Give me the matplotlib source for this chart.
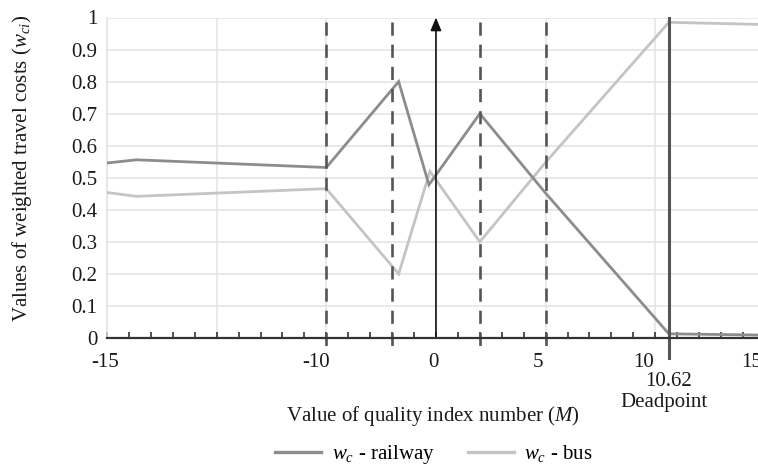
import numpy as np
import matplotlib
matplotlib.use("Agg")
import matplotlib.pyplot as plt
from matplotlib.transforms import ScaledTranslation
from matplotlib.lines import Line2D

# ---- data ----
railway_M = [-15, -14.33, -10, -3.4, -0.64, 2, 5, 10.62, 15]
railway_w = [0.546, 0.556, 0.532, 0.80, 0.478, 0.70, 0.452, 0.013, 0.009]
bus_M = [-15, -14.33, -10, -3.4, -0.55, 2, 5, 10.62, 15]
bus_w = [0.454, 0.442, 0.466, 0.20, 0.52, 0.30, 0.548, 0.985, 0.978]
dashed_M = [-10, -4, 2, 5]
deadpoint_M = 10.62
xtick_vals = [-15, -12.5, -10, 0, 5, 10, 15]
xtick_labels = ["-15", "", "-10", "0", "5", "10", "15"]
ytick_vals = [0, 0.1, 0.2, 0.3, 0.4, 0.5, 0.6, 0.7, 0.8, 0.9, 1.0]
ytick_labels = ["0", "0.1", "0.2", "0.3", "0.4", "0.5", "0.6", "0.7", "0.8", "0.9", "1"]

plt.rcParams['font.family'] = ['Liberation Serif', 'DejaVu Serif']
plt.rcParams['mathtext.fontset'] = 'custom'
plt.rcParams['mathtext.rm'] = 'Liberation Serif'
plt.rcParams['mathtext.it'] = 'Liberation Serif:italic'

# piecewise axis used in the reference
_m_knots = [-15, -10, 0, 15]
_p_knots = [0, 10, 15, 30]
def fwd(m):
    return np.interp(m, _m_knots, _p_knots)
def inv(p):
    return np.interp(p, _p_knots, _m_knots)

W, H = 758, 468
fig = plt.figure(figsize=(W / 100, H / 100), dpi=100)
x0, x1 = 107, 107 + 30 * 21.93
y0, y1 = 338, 17.5
ax = fig.add_axes([x0 / W, 1 - y0 / H, (x1 - x0) / W, (y0 - y1) / H])
ax.set_xscale('function', functions=(fwd, inv))
ax.set_xlim(-15, 15)
ax.set_ylim(0, 1)

grid_c = '#e3e3e3'
ax.set_xticks(xtick_vals)
ax.set_xticklabels(xtick_labels)
ax.set_xticks(inv(np.arange(0, 31)), minor=True)
ax.set_yticks(ytick_vals)
ax.set_yticklabels(ytick_labels)
ax.grid(True, which='major', color=grid_c, lw=1.1, zorder=0)
ax.set_axisbelow(True)

ax.tick_params(axis='x', which='both', direction='in', length=4, width=1.2,
               color='#333333', labelsize=15, pad=11, labelcolor='#1a1a1a')
ax.tick_params(axis='y', which='both', length=0, labelsize=15, pad=7,
               labelcolor='#1a1a1a')

for s in ['top', 'right']:
    ax.spines[s].set_visible(False)
ax.spines['left'].set_color(grid_c)
ax.spines['left'].set_linewidth(1.1)
ax.spines['bottom'].set_color('#333333')
ax.spines['bottom'].set_linewidth(1.6)
ax.spines['bottom'].set_zorder(5)

# shift tick labels as in the reference
offsets = [-2, 0, -10, -3, -8, -12, -13]
for lbl, dx in zip(ax.get_xticklabels(), offsets):
    lbl.set_transform(lbl.get_transform() + ScaledTranslation(dx / 100, 0, fig.dpi_scale_trans))

# data lines
rail_c = '#8c8c8c'
bus_c = '#c4c4c4'
ax.plot(bus_M, bus_w, color=bus_c, lw=2.0, zorder=3, solid_joinstyle='miter')
ax.plot(railway_M, railway_w, color=rail_c, lw=2.0, zorder=3, solid_joinstyle='miter')

# dashed lines
for m in dashed_M:
    ax.plot([m, m], [0.985, -0.025], color='#555555', lw=1.9, ls=(0, (5, 3.4)),
            clip_on=False, zorder=4)

# arrow at 0
ax.annotate('', xy=(0, 1.0), xytext=(0, 0),
            arrowprops=dict(arrowstyle='-|>,head_length=0.6,head_width=0.25',
                            color='#111111', lw=1.2,
                            mutation_scale=13, shrinkA=0, shrinkB=0), zorder=4)

# deadpoint line
ax.plot([deadpoint_M, deadpoint_M], [1.0, -0.0625], color='#555555', lw=2.2,
        clip_on=False, zorder=4)
ax.text(deadpoint_M, -0.137, "10.62", ha='center', va='center', fontsize=15,
        color='#1a1a1a', clip_on=False)
ax.text(deadpoint_M - 0.2, -0.2, "Deadpoint", ha='center', va='center', fontsize=15,
        color='#1a1a1a', clip_on=False)

fig.text(433 / W, 1 - 416 / H, "Value of quality index number ($M$)", ha='center',
         va='center', fontsize=15, color='#1a1a1a')
fig.text(22 / W, 1 - 168 / H, "Values of weighted travel costs ($w_{ci}$)", ha='center',
         va='center', rotation=90, fontsize=15, color='#1a1a1a')

handles = [Line2D([], [], color=rail_c, lw=2.4), Line2D([], [], color=bus_c, lw=2.4)]
fig.legend(handles, ["$w_c$ - railway", "$w_c$ - bus"], loc='center',
           bbox_to_anchor=(434 / W, 1 - 455 / H), ncol=2, frameon=False, fontsize=15,
           handlelength=2.2, handletextpad=0.5, columnspacing=1.6)

fig.savefig('out.png', dpi=100)
